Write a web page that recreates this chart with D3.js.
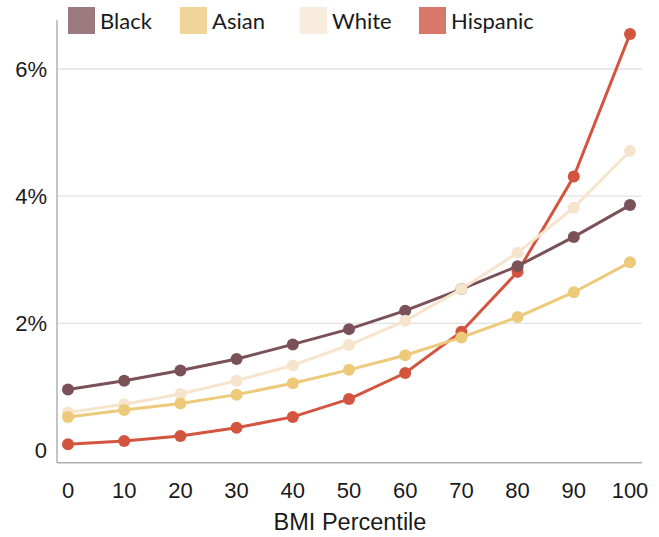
<!DOCTYPE html>
<html>
<head>
<meta charset="utf-8">
<script src="https://cdn.jsdelivr.net/npm/d3@7"></script>
<style>
  html, body { margin: 0; padding: 0; background: #fff; }
  svg { display: block; }
</style>
</head>
<body>
<svg id="chart" width="659" height="537"></svg>
<script>
const percentiles = [0, 10, 20, 30, 40, 50, 60, 70, 80, 90, 100];
const black    = [0.96, 1.10, 1.26, 1.44, 1.67, 1.91, 2.20, 2.54, 2.90, 3.36, 3.86];
const white    = [0.60, 0.73, 0.89, 1.10, 1.34, 1.66, 2.04, 2.54, 3.11, 3.82, 4.71];
const asian    = [0.53, 0.64, 0.74, 0.88, 1.06, 1.27, 1.50, 1.78, 2.10, 2.49, 2.96];
const hispanic = [0.10, 0.15, 0.23, 0.36, 0.53, 0.81, 1.22, 1.87, 2.81, 4.31, 6.55];
const yTicks = [0, 2, 4, 6];
const yTickLabels = ["0", "2%", "4%", "6%"];
const xTicks = percentiles;
const xTitle = "BMI Percentile";

const seriesNames = ["Black", "Asian", "White", "Hispanic"];
const lineColors   = {Black: "#7b5158", Asian: "#edc97a", White: "#f6e4cd", Hispanic: "#d4553f"};
const legendColors = {Black: "#9d7a7f", Asian: "#f0d49a", White: "#f8ecdc", Hispanic: "#d97868"};
const seriesData = {Black: black, Asian: asian, White: white, Hispanic: hispanic};
const drawOrder = ["Hispanic", "Black", "White", "Asian"];

const svg = d3.select("#chart");
const x = d3.scaleLinear().domain([0, 100]).range([68, 630]);
const y = d3.scaleLinear().domain([-0.19, 6.77]).range([462.7, 20]);
const axisLeftX = 57, axisRightX = 642;
const axisFont = "'Liberation Sans', Arial, Helvetica, sans-serif";

// gridlines
svg.append("g").selectAll("line").data(yTicks.filter(d => d > 0)).join("line")
  .attr("x1", axisLeftX).attr("x2", axisRightX)
  .attr("y1", d => y(d)).attr("y2", d => y(d))
  .attr("stroke", "#e2e2e2").attr("stroke-width", 1.3);

// axes lines
svg.append("line").attr("x1", axisLeftX).attr("x2", axisLeftX)
  .attr("y1", y.range()[1]).attr("y2", y.range()[0])
  .attr("stroke", "#b0b0b0").attr("stroke-width", 1.5);
svg.append("line").attr("x1", axisLeftX).attr("x2", axisRightX)
  .attr("y1", y.range()[0]).attr("y2", y.range()[0])
  .attr("stroke", "#b0b0b0").attr("stroke-width", 1.5);

// y tick labels
svg.append("g").selectAll("text").data(yTicks).join("text")
  .attr("x", 47).attr("y", d => y(d))
  .attr("dy", "0.35em")
  .attr("text-anchor", "end")
  .attr("font-family", axisFont)
  .attr("font-size", 22).attr("fill", "#1a1a1a")
  .text((d, i) => yTickLabels[i]);

// x tick labels
svg.append("g").selectAll("text").data(xTicks).join("text")
  .attr("x", d => x(d)).attr("y", 498)
  .attr("text-anchor", "middle")
  .attr("font-family", axisFont)
  .attr("font-size", 22).attr("fill", "#1a1a1a")
  .text(d => d);

svg.append("text").attr("x", 350).attr("y", 530)
  .attr("text-anchor", "middle")
  .attr("font-family", axisFont)
  .attr("font-size", 23.5).attr("fill", "#1a1a1a")
  .text(xTitle);

// lines
const line = d3.line().x((d, i) => x(percentiles[i])).y(d => y(d));
drawOrder.forEach(name => {
  const g = svg.append("g");
  g.append("path").datum(seriesData[name])
    .attr("d", line).attr("fill", "none")
    .attr("stroke", lineColors[name]).attr("stroke-width", 3);
  g.selectAll("circle").data(seriesData[name]).join("circle")
    .attr("cx", (d, i) => x(percentiles[i])).attr("cy", d => y(d))
    .attr("r", 6).attr("fill", lineColors[name]);
});

// legend
const legendX = [68, 180, 300, 419];
const lg = svg.append("g");
seriesNames.forEach((name, i) => {
  lg.append("rect").attr("x", legendX[i]).attr("y", 7)
    .attr("width", 27).attr("height", 27)
    .attr("fill", legendColors[name]);
  lg.append("text").attr("x", legendX[i] + 32).attr("y", 29)
    .attr("font-family", "Lato, 'Open Sans', sans-serif")
    .attr("font-size", 22).attr("fill", "#1a1a1a")
    .text(name);
});
</script>
</body>
</html>
